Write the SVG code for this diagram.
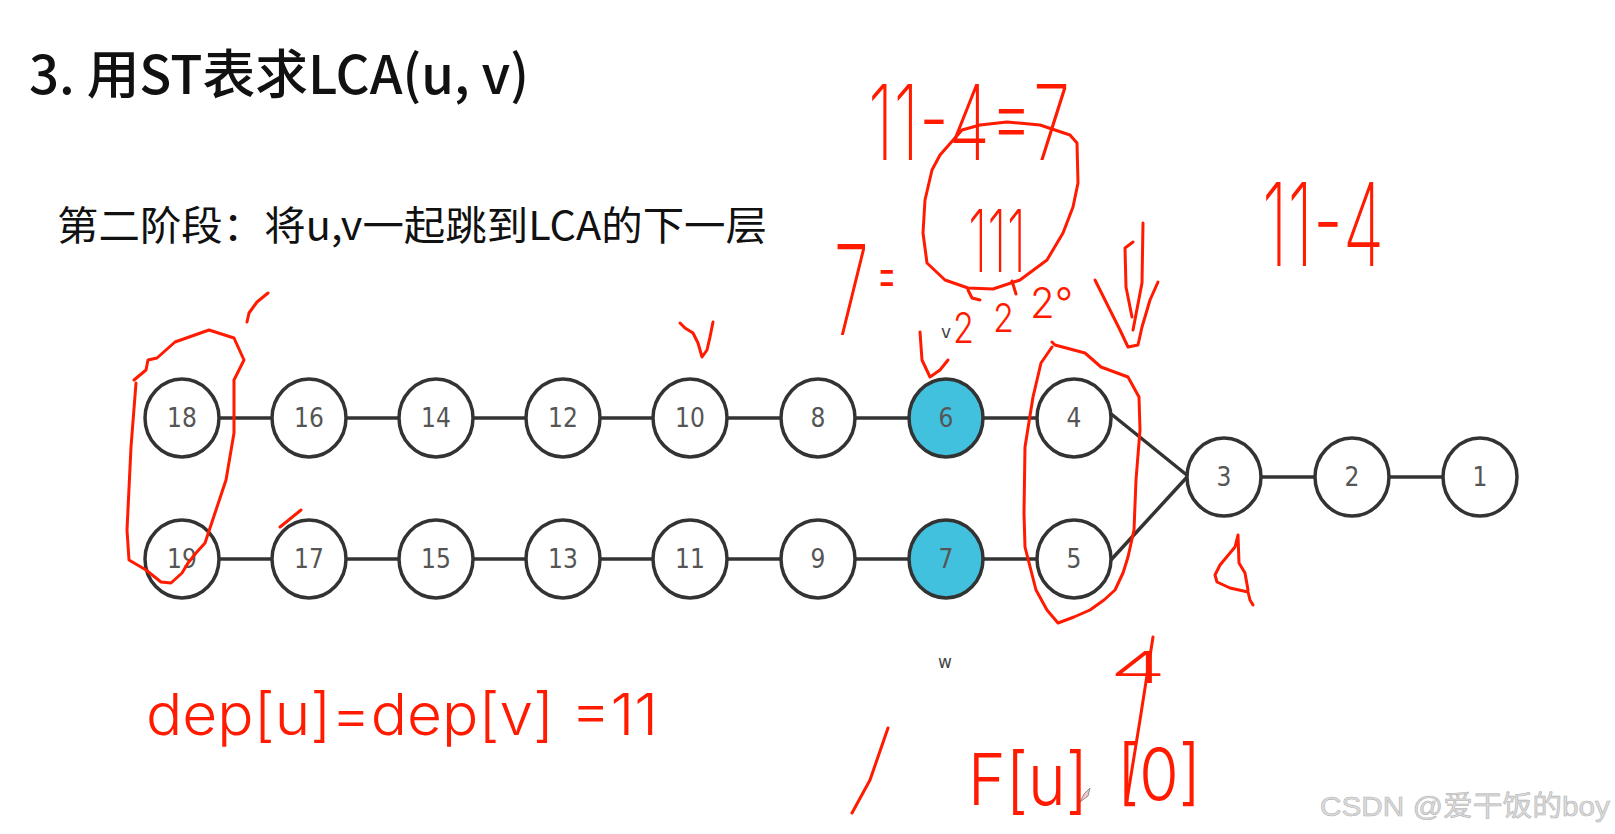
<svg xmlns="http://www.w3.org/2000/svg" width="1615" height="834" viewBox="0 0 1615 834">
<style>
  .title{font-family:"Noto Sans CJK SC","Liberation Sans",sans-serif;font-weight:500;fill:#111}
  .sub{font-family:"Noto Sans CJK SC","Liberation Sans",sans-serif;font-weight:400;fill:#111}
  .node ellipse{fill:#fff;stroke:#333;stroke-width:3.5}
  .node.hl ellipse{fill:#42c1df}
  .node text{font-family:"Liberation Sans Narrow","DejaVu Sans Condensed","Liberation Sans",sans-serif;font-size:26px;fill:#555;text-anchor:middle}
  .edge{stroke:#333;stroke-width:3.5;fill:none}
  .lbl{font-family:"DejaVu Sans","Liberation Sans",sans-serif;font-size:17px;fill:#444;text-anchor:middle}
  .ink{fill:none;stroke:#ff1a00;stroke-width:3;stroke-linecap:round;stroke-linejoin:round}
  .hw{font-family:"Inter","Lato","Liberation Sans",sans-serif;font-weight:200;fill:#ff1a00}
  .hs{font-weight:300}
  .wm{font-family:"Liberation Sans","Noto Sans CJK SC",sans-serif;font-size:28px;fill:#dcdcdc;stroke:#b4b4b4;stroke-width:0.6}
</style>
<rect width="1615" height="834" fill="#fff"/>

<text class="title" x="29" y="94" font-size="53" textLength="500" lengthAdjust="spacingAndGlyphs">3. 用ST表求LCA(u, v)</text>
<text class="sub" x="57" y="240" font-size="40" textLength="710" lengthAdjust="spacingAndGlyphs">第二阶段：将u,v一起跳到LCA的下一层</text>

<g id="connectors">
  <line class="edge" x1="182" y1="418" x2="1074" y2="418"/>
  <line class="edge" x1="182" y1="559" x2="1074" y2="559"/>
  <line class="edge" x1="1224" y1="477" x2="1480" y2="477"/>
  <line class="edge" x1="1110" y1="413" x2="1188" y2="476"/>
  <line class="edge" x1="1110" y1="561" x2="1188" y2="476"/>
</g>

<g id="n18" class="node"><ellipse cx="182" cy="418" rx="37" ry="39"/><text x="182" y="427">18</text></g>
<g id="n16" class="node"><ellipse cx="309" cy="418" rx="37" ry="39"/><text x="309" y="427">16</text></g>
<g id="n14" class="node"><ellipse cx="436" cy="418" rx="37" ry="39"/><text x="436" y="427">14</text></g>
<g id="n12" class="node"><ellipse cx="563" cy="418" rx="37" ry="39"/><text x="563" y="427">12</text></g>
<g id="n10" class="node"><ellipse cx="690" cy="418" rx="37" ry="39"/><text x="690" y="427">10</text></g>
<g id="n8" class="node"><ellipse cx="818" cy="418" rx="37" ry="39"/><text x="818" y="427">8</text></g>
<g id="n6" class="node hl"><ellipse cx="946" cy="418" rx="37" ry="39"/><text x="946" y="427">6</text></g>
<g id="n4" class="node"><ellipse cx="1074" cy="418" rx="37" ry="39"/><text x="1074" y="427">4</text></g>
<g id="n19" class="node"><ellipse cx="182" cy="559" rx="37" ry="39"/><text x="182" y="568">19</text></g>
<g id="n17" class="node"><ellipse cx="309" cy="559" rx="37" ry="39"/><text x="309" y="568">17</text></g>
<g id="n15" class="node"><ellipse cx="436" cy="559" rx="37" ry="39"/><text x="436" y="568">15</text></g>
<g id="n13" class="node"><ellipse cx="563" cy="559" rx="37" ry="39"/><text x="563" y="568">13</text></g>
<g id="n11" class="node"><ellipse cx="690" cy="559" rx="37" ry="39"/><text x="690" y="568">11</text></g>
<g id="n9" class="node"><ellipse cx="818" cy="559" rx="37" ry="39"/><text x="818" y="568">9</text></g>
<g id="n7" class="node hl"><ellipse cx="946" cy="559" rx="37" ry="39"/><text x="946" y="568">7</text></g>
<g id="n5" class="node"><ellipse cx="1074" cy="559" rx="37" ry="39"/><text x="1074" y="568">5</text></g>
<g id="n3" class="node"><ellipse cx="1224" cy="477" rx="37" ry="39"/><text x="1224" y="486">3</text></g>
<g id="n2" class="node"><ellipse cx="1352" cy="477" rx="37" ry="39"/><text x="1352" y="486">2</text></g>
<g id="n1" class="node"><ellipse cx="1480" cy="477" rx="37" ry="39"/><text x="1480" y="486">1</text></g>

<g id="labels">
  <text class="lbl" x="946" y="338">v</text>
  <text class="lbl" x="945" y="668">w</text>
</g>

<g id="annotations">
  <path class="ink" d="M134,380 L146,370 L148,360 L157,358 L175,342 L209,330 L234,338 L244,360 L234,380 L234,433 L226,480 L215,513 L205,543 L196,553 L188,563 L182,573 L171,583 L161,582 L146,570 L129,560 L127,530 L131,447 L136,383"/>
  <path class="ink" d="M247,322 L249,313 L257,302 L268,293"/>
  <path class="ink" d="M280,527 L301,510"/>
  <path class="ink" d="M680,323 L685,328 L693,333 L698,343 L702,357 L707,350 L710,337 L713,322"/>
  <path class="ink" d="M920,332 L922,360 L930,377 L940,370 L948,360"/>
  <path class="ink" d="M962,130 L980,125 L1007,122 L1040,125 L1070,135 L1077,143 L1078,183 L1073,207 L1063,233 L1047,260 L1020,280 L993,289 L968,288 L945,280 L927,263 L923,233 L925,200 L932,170 L940,155 L962,130"/>
  <path class="ink" d="M968,290 L972,298 L980,300"/>
  <path class="ink" d="M1012,281 L1016,294"/>
  <path class="ink" d="M1143,223 L1142,283 L1133,330"/>
  <path class="ink" d="M1133,242 L1125,248 L1126,287 L1132,317"/>
  <path class="ink" d="M1095,280 L1110,310 L1120,330 L1128,347 L1138,345 L1142,327 L1150,300 L1158,282"/>
  <path class="ink" d="M1052,342 L1055,345 L1085,353 L1101,367 L1128,377 L1139,397 L1140,430 L1136,480 L1134,530 L1128,557 L1123,573 L1115,590 L1104,600 L1090,610 L1074,617 L1058,623 L1047,610 L1036,590 L1025,547 L1024,513 L1025,447 L1033,397 L1041,363 L1052,347"/>
  <path class="ink" d="M1238,535 L1235,547 L1220,565 L1215,575 L1217,582 L1230,588 L1248,592 L1250,600 L1253,605 M1238,535 L1239,563 L1245,573 L1248,590"/>
  <path class="ink" d="M1153,637 L1140,720 L1127,800"/>
  <path class="ink" d="M888,728 L870,780 L852,813"/>
  <path d="M1080,802 L1084,794 L1090,788 L1088,796 Z" fill="#f3c8c8" stroke="#777" stroke-width="0.8"/>

  <text class="hw" x="868" y="160" font-size="105" textLength="202" lengthAdjust="spacingAndGlyphs">11-4=7</text>
  <text class="hw" transform="translate(968,272) scale(1,1.8)" font-size="48" textLength="58" lengthAdjust="spacingAndGlyphs">111</text>
  <text class="hw" transform="translate(834,335) scale(0.5,1)" font-size="125"><tspan>7</tspan><tspan class="hs" font-size="60" dx="17" dy="-40">=</tspan></text>
  <text class="hw hs" x="953" y="343" font-size="42" textLength="21" lengthAdjust="spacingAndGlyphs">2</text>
  <text class="hw hs" x="993" y="332" font-size="40" textLength="21" lengthAdjust="spacingAndGlyphs">2</text>
  <text class="hw hs" x="1030" y="318" font-size="42" textLength="43" lengthAdjust="spacingAndGlyphs">2°</text>
  <text class="hw" x="1262" y="266" font-size="115" textLength="122" lengthAdjust="spacingAndGlyphs">11-4</text>
  <text class="hw hs" x="146" y="735" font-size="58" textLength="512" lengthAdjust="spacingAndGlyphs">dep[u]=dep[v] =11</text>
  <text class="hw hs" x="1110" y="683" font-size="44" textLength="56" lengthAdjust="spacingAndGlyphs">4</text>
  <text class="hw hs" x="968" y="805" font-size="72" textLength="120" lengthAdjust="spacingAndGlyphs">F[u]</text>
  <text class="hw hs" x="1117" y="800" font-size="72" textLength="84" lengthAdjust="spacingAndGlyphs">[0]</text>
</g>

<text class="wm" x="1320" y="816" textLength="290" lengthAdjust="spacingAndGlyphs">CSDN @爱干饭的boy</text>
</svg>
